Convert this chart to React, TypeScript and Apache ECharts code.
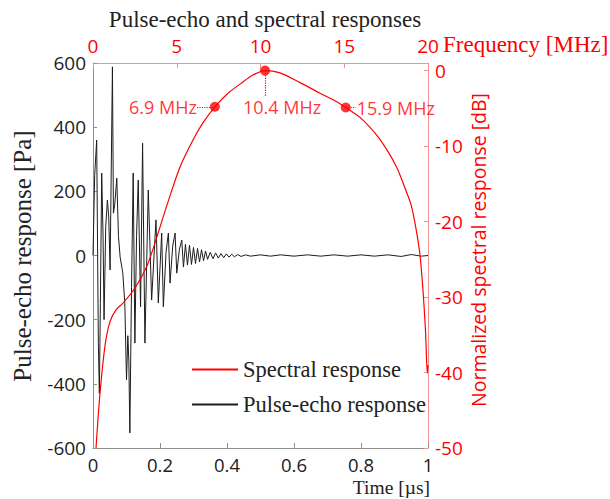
import React, { useEffect, useRef } from "react";
import * as echarts from "echarts";

// Pulse-echo response (time in µs, pressure in Pa)
const timeUs = [
  0, 0.005, 0.011, 0.016, 0.019, 0.022, 0.026, 0.03, 0.033, 0.038, 0.043, 0.047, 0.051, 0.058,
  0.061, 0.065, 0.071, 0.076, 0.081, 0.089, 0.095, 0.1, 0.104, 0.107, 0.11, 0.115, 0.12, 0.125,
  0.13, 0.135, 0.142, 0.148, 0.155, 0.165, 0.175, 0.188, 0.195, 0.205, 0.21, 0.218, 0.225, 0.23,
  0.238, 0.245, 0.25, 0.258, 0.265, 0.27, 0.276, 0.282, 0.288, 0.294, 0.3, 0.306, 0.312, 0.318,
  0.324, 0.33, 0.336, 0.342, 0.35, 0.358, 0.366, 0.374, 0.382, 0.39, 0.398, 0.406, 0.414, 0.422,
  0.432, 0.442, 0.455, 0.47, 0.5, 0.53, 0.56, 0.6, 0.64, 0.68, 0.72, 0.76, 0.8, 0.84, 0.88, 0.92,
  0.95, 0.98, 1.0,
];
const pulseEchoPa = [
  0, 250, 360, -275, -430, -150, 257, 60, -200, 90, 173, 120, -45, 588,
  132, 160, 241, 60, -5, -55, -150, -388, -250, -330, -553, -100, 257, -273,
  60, 235, -160, 350, -273, 204, -139, 111, -148, 70, -160, 10, 70, -86,
  30, 70, -55, 20, 48, -36, 35, -30, 32, -28, 25, -25, 22, -20,
  18, -16, 14, -12, 10, -10, 8, -8, 6, -7, 5, -5, 4, -4,
  3, -3, 2, -2, 2, -2, 2, -2, 2, -2, 2, -2, 2, -2, 2, -3,
  3, -2, 0,
];

// Normalized spectral response (frequency in MHz, level in dB)
const freqMHz = [
  0.18, 0.42, 0.72, 1.01, 1.37, 1.79, 2.51, 3.22, 3.82, 4.42, 5.19, 5.97, 6.57, 7.28,
  8.06, 8.78, 9.55, 10.27, 11.16, 12.36, 13.55, 14.45, 15.09, 15.94, 16.84, 17.55, 18.15,
  18.63, 18.99, 19.28, 19.52, 19.7, 19.85, 19.96, 20.0,
];
const spectralDb = [
  -50, -42.7, -36.4, -33.3, -31.7, -30.8, -28.8, -25.9, -22.0, -17.8, -12.8, -9.2, -6.9, -4.8,
  -3.0, -1.8, -0.6, 0, -0.3, -1.6, -3.0, -4.0, -4.9, -6.2, -8.3, -10.5, -12.9,
  -15.6, -17.8, -20.9, -24.4, -29.1, -34.4, -40.1, -39.0,
];

// Marked points on the spectrum
const markerFreq = [7.28, 10.27, 15.09];
const markerDb = [-4.8, 0, -4.9];
const markerLabels = ["6.9 MHz", "10.4 MHz", "15.9 MHz"];

const seriesNames = ["Spectral response", "Pulse-echo response"];

const RED = "#ff0000";
const PINK = "#f29191";
const GRAY = "#8f8f8f";
const DARK = "#222222";
const SERIF = "'Liberation Serif', 'Times New Roman', serif";
const SANS = "'Open Sans', 'Noto Sans', sans-serif";

export default function App() {
  const ref = useRef<HTMLDivElement | null>(null);

  useEffect(() => {
    if (!ref.current) return;
    const chart = echarts.init(ref.current, undefined, { renderer: "svg" });

    const fmtNum = (v: number) => String(Math.round(v * 100) / 100);

    const option: any = {
      animation: false,
      backgroundColor: "#ffffff",
      grid: { left: 93, top: 63, width: 335, height: 385, containLabel: false },
      legend: {
        orient: "vertical",
        left: 187,
        top: 353,
        itemWidth: 46,
        itemHeight: 2,
        itemGap: 12,
        icon: "rect",
        data: seriesNames,
        textStyle: { fontFamily: SERIF, fontSize: 22.5, color: DARK },
      },
      xAxis: [
        {
          type: "value",
          position: "bottom",
          min: 0,
          max: 1,
          interval: 0.2,
          axisLine: { show: true, onZero: false, lineStyle: { color: GRAY, width: 1 } },
          axisTick: { show: true, inside: true, length: 5, lineStyle: { color: GRAY } },
          splitLine: { show: false },
          axisLabel: { color: DARK, fontFamily: SANS, fontSize: 18.5, margin: 7, formatter: fmtNum },
        },
        {
          type: "value",
          position: "top",
          min: 0,
          max: 20,
          interval: 5,
          axisLine: { show: true, onZero: false, lineStyle: { color: PINK, width: 1 } },
          axisTick: { show: true, inside: true, length: 5, lineStyle: { color: PINK } },
          splitLine: { show: false },
          axisLabel: { color: RED, fontFamily: SANS, fontSize: 19, margin: 8, formatter: fmtNum },
        },
      ],
      yAxis: [
        {
          type: "value",
          position: "left",
          min: -600,
          max: 600,
          interval: 200,
          axisLine: { show: true, onZero: false, lineStyle: { color: GRAY, width: 1 } },
          axisTick: { show: true, inside: true, length: 4, lineStyle: { color: GRAY } },
          splitLine: { show: false },
          axisLabel: { color: DARK, fontFamily: SANS, fontSize: 19, margin: 7 },
        },
        {
          type: "value",
          position: "right",
          min: -50,
          max: 1,
          interval: 10,
          axisLine: { show: true, onZero: false, lineStyle: { color: PINK, width: 1 } },
          axisTick: { show: true, inside: true, length: 4, lineStyle: { color: PINK } },
          splitLine: { show: false },
          axisLabel: {
            color: RED,
            fontFamily: SANS,
            fontSize: 19,
            margin: 7,
            formatter: (v: number) => (Math.abs(v % 10) < 1e-9 ? String(v) : ""),
          },
        },
      ],
      series: [
        {
          name: seriesNames[1],
          type: "line",
          xAxisIndex: 0,
          yAxisIndex: 0,
          data: timeUs.map((t, i) => [t, pulseEchoPa[i]]),
          symbol: "none",
          lineStyle: { color: "#1c1c1c", width: 1 },
          itemStyle: { color: "#1c1c1c" },
          z: 2,
        },
        {
          name: seriesNames[0],
          type: "line",
          xAxisIndex: 1,
          yAxisIndex: 1,
          data: freqMHz.map((f, i) => [f, spectralDb[i]]),
          symbol: "none",
          smooth: 0.3,
          lineStyle: { color: RED, width: 1.2 },
          itemStyle: { color: RED },
          z: 3,
        },
        {
          name: "markers",
          type: "scatter",
          xAxisIndex: 1,
          yAxisIndex: 1,
          symbol: "circle",
          symbolSize: 10,
          itemStyle: { color: RED },
          z: 4,
          data: markerFreq.map((f, i) => ({
            value: [f, markerDb[i]],
            label: {
              show: true,
              position: "inside",
              formatter: markerLabels[i],
              color: RED,
              fontFamily: SANS,
              fontSize: 18,
              align: i === 0 ? "right" : "left",
              verticalAlign: "middle",
              offset: i === 0 ? [-18, 0] : i === 1 ? [-22, 36] : [11, 0],
            },
          })),
          markLine: {
            silent: true,
            symbol: "none",
            label: { show: false },
            lineStyle: { color: RED, type: "dotted", width: 1.2 },
            data: [
              [{ coord: [markerFreq[0] - 1.07, markerDb[0]] }, { coord: [markerFreq[0], markerDb[0]] }],
              [{ coord: [markerFreq[1], markerDb[1]] }, { coord: [markerFreq[1], markerDb[1] - 3.4] }],
              [{ coord: [markerFreq[2], markerDb[2]] }, { coord: [markerFreq[2] + 0.6, markerDb[2]] }],
            ],
          },
        },
      ],
      graphic: [
        {
          type: "text",
          x: 265,
          y: 19,
          style: {
            text: "Pulse-echo and spectral responses",
            fontFamily: SERIF,
            fontSize: 23,
            fill: DARK,
            textAlign: "center",
            textVerticalAlign: "middle",
          },
        },
        {
          type: "text",
          x: 443,
          y: 44,
          style: {
            text: "Frequency [MHz]",
            fontFamily: SERIF,
            fontSize: 23,
            fill: RED,
            textAlign: "left",
            textVerticalAlign: "middle",
          },
        },
        {
          type: "text",
          x: 430,
          y: 487,
          style: {
            text: "Time [µs]",
            fontFamily: SERIF,
            fontSize: 19.5,
            fill: DARK,
            textAlign: "right",
            textVerticalAlign: "middle",
          },
        },
        {
          type: "text",
          x: 22,
          y: 256,
          rotation: Math.PI / 2,
          style: {
            text: "Pulse-echo response [Pa]",
            fontFamily: SERIF,
            fontSize: 25,
            fill: DARK,
            textAlign: "center",
            textVerticalAlign: "middle",
          },
        },
        {
          type: "text",
          x: 478,
          y: 250,
          rotation: Math.PI / 2,
          style: {
            text: "Normalized spectral response [dB]",
            fontFamily: SANS,
            fontSize: 19.5,
            fill: RED,
            textAlign: "center",
            textVerticalAlign: "middle",
          },
        },
      ],
    };

    chart.setOption(option);
    return () => chart.dispose();
  }, []);

  return (
    <div
      ref={ref}
      style={{ position: "fixed", left: 0, top: 0, width: 610, height: 499, background: "#fff" }}
    />
  );
}
